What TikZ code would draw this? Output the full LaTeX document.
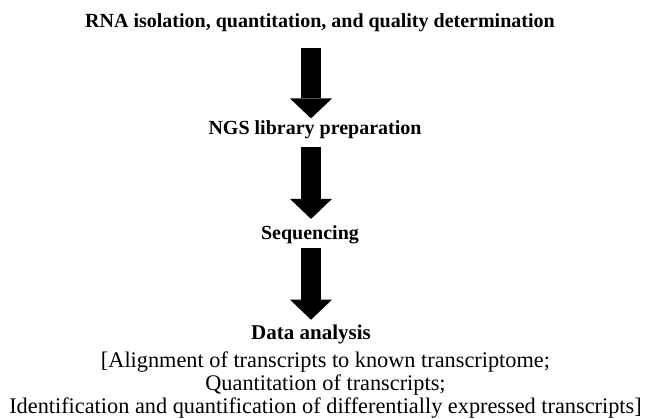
\documentclass[tikz,border=0pt]{standalone}
\usepackage{fontspec}
\setmainfont{Liberation Serif}
\usetikzlibrary{arrows.meta,calc}

\begin{document}
\begin{tikzpicture}[x=1pt,y=-1pt,
  schritt/.style={inner sep=0pt,anchor=base,font=\fontsize{20}{24}\selectfont\bfseries},
  blockpfeil/.style={line width=20pt,-{Triangle[width=42pt,length=20pt,line width=0pt 0 0]}}]
  \useasboundingbox (0,0) rectangle (649,419);
  \coordinate (col) at (311,0);
  \node[schritt] (rna) at (320,28) {RNA isolation, quantitation, and quality determination};
  \node[schritt] (ngs) at (315,135) {NGS library preparation};
  \node[schritt] (seq) at (310,240) {Sequencing};
  \node[schritt,font=\fontsize{21}{24}\selectfont\bfseries] (data) at (311,340) {Data analysis};
  \node[inner sep=0pt,anchor=north,align=center,font=\fontsize{22.3}{23}\selectfont] (details) at (325.5,351.7)
    {{[}Alignment of transcripts to known transcriptome;\\
     Quantitation of transcripts;\\
     Identification and quantification of differentially expressed transcripts]};
  \draw[blockpfeil,shorten <=15pt,shorten >=2.5pt] (rna.south -| col) -- (ngs.north -| col);
  \draw[blockpfeil,shorten <=7pt,shorten >=7pt] (ngs.south -| col) -- (seq.north -| col);
  \draw[blockpfeil,shorten <=3pt,shorten >=5.5pt] (seq.south -| col) -- (data.north -| col);
\end{tikzpicture}
\end{document}
